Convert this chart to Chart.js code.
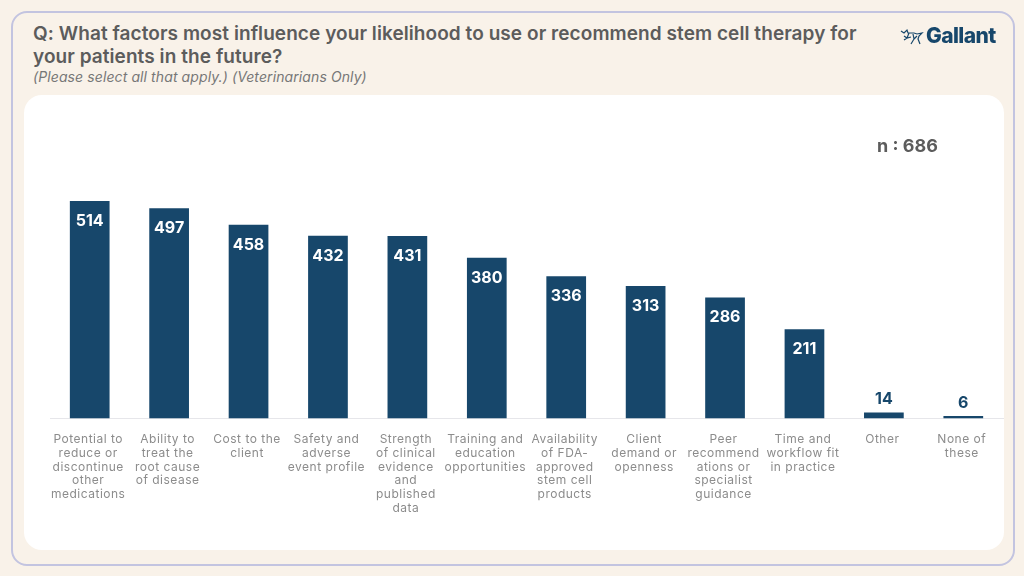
<!DOCTYPE html>
<html>
<head>
<meta charset="utf-8">
<script src="https://cdn.jsdelivr.net/npm/chart.js@4"></script>
<style>
  html, body { margin: 0; padding: 0; }
  body { width: 1024px; height: 576px; background: #f9f2e9; position: relative; overflow: hidden; font-family: Inter, sans-serif; }
  #frame { position: absolute; left: 11px; top: 10.5px; width: 999.5px; height: 551px; border: 2px solid #c3c4e0; border-radius: 16px; box-sizing: content-box; }
  #card { position: absolute; left: 24px; top: 95px; width: 980px; height: 455px; background: #fff; border-radius: 18px; }
  #card canvas { position: absolute; left: 0; top: 0; }
  #title { position: absolute; left: 33px; top: 22px; width: 860px; font-size: 19px; line-height: 23px; font-weight: 600; letter-spacing: 0.07px; color: #5c5c5c; white-space: nowrap; }
  #sub { position: absolute; left: 33px; top: 68px; font-size: 14px; line-height: 18px; font-style: italic; letter-spacing: 0.1px; color: #777; }
  #n { position: absolute; left: 877px; top: 135px; font-size: 18px; line-height: 22px; font-weight: 700; color: #5c5c5c; }
  #logo { position: absolute; left: 926px; top: 23px; font-size: 21px; line-height: 26px; font-weight: 800; letter-spacing: -0.6px; color: #17476b; }
  #mark { position: absolute; left: 900px; top: 27px; }
</style>
</head>
<body>
<div id="frame"></div>
<div id="card"><canvas id="myChart" width="980" height="455"></canvas></div>
<div id="title">Q: What factors most influence your likelihood to use or recommend stem cell therapy for<br>your patients in the future?</div>
<div id="sub">(Please select all that apply.) (Veterinarians Only)</div>
<div id="n">n : 686</div>
<svg id="mark" width="25" height="19" viewBox="0 0 25 19" fill="none" stroke="#17476b" stroke-width="1.2">
  <path d="M1 4l3 2 3-3 1 3h6l3 1 5-1-3 3-1 3 2 5M9 6l-2 5-3 2M13 7l1 5-3 5M17 9l-3 3M4 9l3 2 4-1"/>
</svg>
<div id="logo">Gallant</div>

<script>
const categories = [
  ['Potential to', 'reduce or', 'discontinue', 'other', 'medications'],
  ['Ability to', 'treat the', 'root cause', 'of disease'],
  ['Cost to the', 'client'],
  ['Safety and', 'adverse', 'event profile'],
  ['Strength', 'of clinical', 'evidence', 'and', 'published', 'data'],
  ['Training and', 'education', 'opportunities'],
  ['Availability', 'of FDA-', 'approved', 'stem cell', 'products'],
  ['Client', 'demand or', 'openness'],
  ['Peer', 'recommend', 'ations or', 'specialist', 'guidance'],
  ['Time and', 'workflow fit', 'in practice'],
  ['Other'],
  ['None of', 'these']
];
const counts = [514, 497, 458, 432, 431, 380, 336, 313, 286, 211, 14, 6];

const barColor = '#17476b';

// wider tracking on the axis labels, Chart.js has no font option for it
const tickSpacing = {
  id: 'tickSpacing',
  beforeDraw(chart) {
    chart.ctx.letterSpacing = '0.5px';
  }
};

// draws the count inside the bar, or above it when the bar is too short
const valueLabels = {
  id: 'valueLabels',
  afterDatasetsDraw(chart) {
    const ctx = chart.ctx;
    const bars = chart.getDatasetMeta(0).data;
    ctx.save();
    ctx.letterSpacing = '0px';
    ctx.textAlign = 'center';
    ctx.textBaseline = 'middle';
    ctx.font = '700 16px Inter';
    bars.forEach((bar, i) => {
      const inside = counts[i] > 50;
      ctx.fillStyle = inside ? '#ffffff' : barColor;
      ctx.fillText(counts[i], bar.x, inside ? bar.y + 20 : bar.y - 13);
    });
    ctx.restore();
  }
};

const ctx = document.getElementById('myChart');
new Chart(ctx, {
  type: 'bar',
  data: {
    labels: categories,
    datasets: [{
      label: 'Respondents',
      data: counts,
      backgroundColor: barColor,
      barPercentage: 0.5,
      categoryPercentage: 1
    }]
  },
  options: {
    responsive: false,
    animation: false,
    layout: { padding: { left: 26, right: 1, top: 69.6, bottom: 0 } },
    plugins: { legend: { display: false }, tooltip: { enabled: false } },
    scales: {
      y: { display: false, min: 0, max: 600 },
      x: {
        afterFit(scale) { scale.height = 131.5; },
        grid: { display: false },
        border: { color: '#e6e6ea', width: 1 },
        ticks: {
          maxRotation: 0,
          autoSkip: false,
          padding: 6,
          labelOffset: -1.5,
          color: '#8c8c8c',
          font: { family: 'Inter', size: 12, lineHeight: 1.15 }
        }
      }
    }
  },
  plugins: [tickSpacing, valueLabels]
});
</script>
</body>
</html>
